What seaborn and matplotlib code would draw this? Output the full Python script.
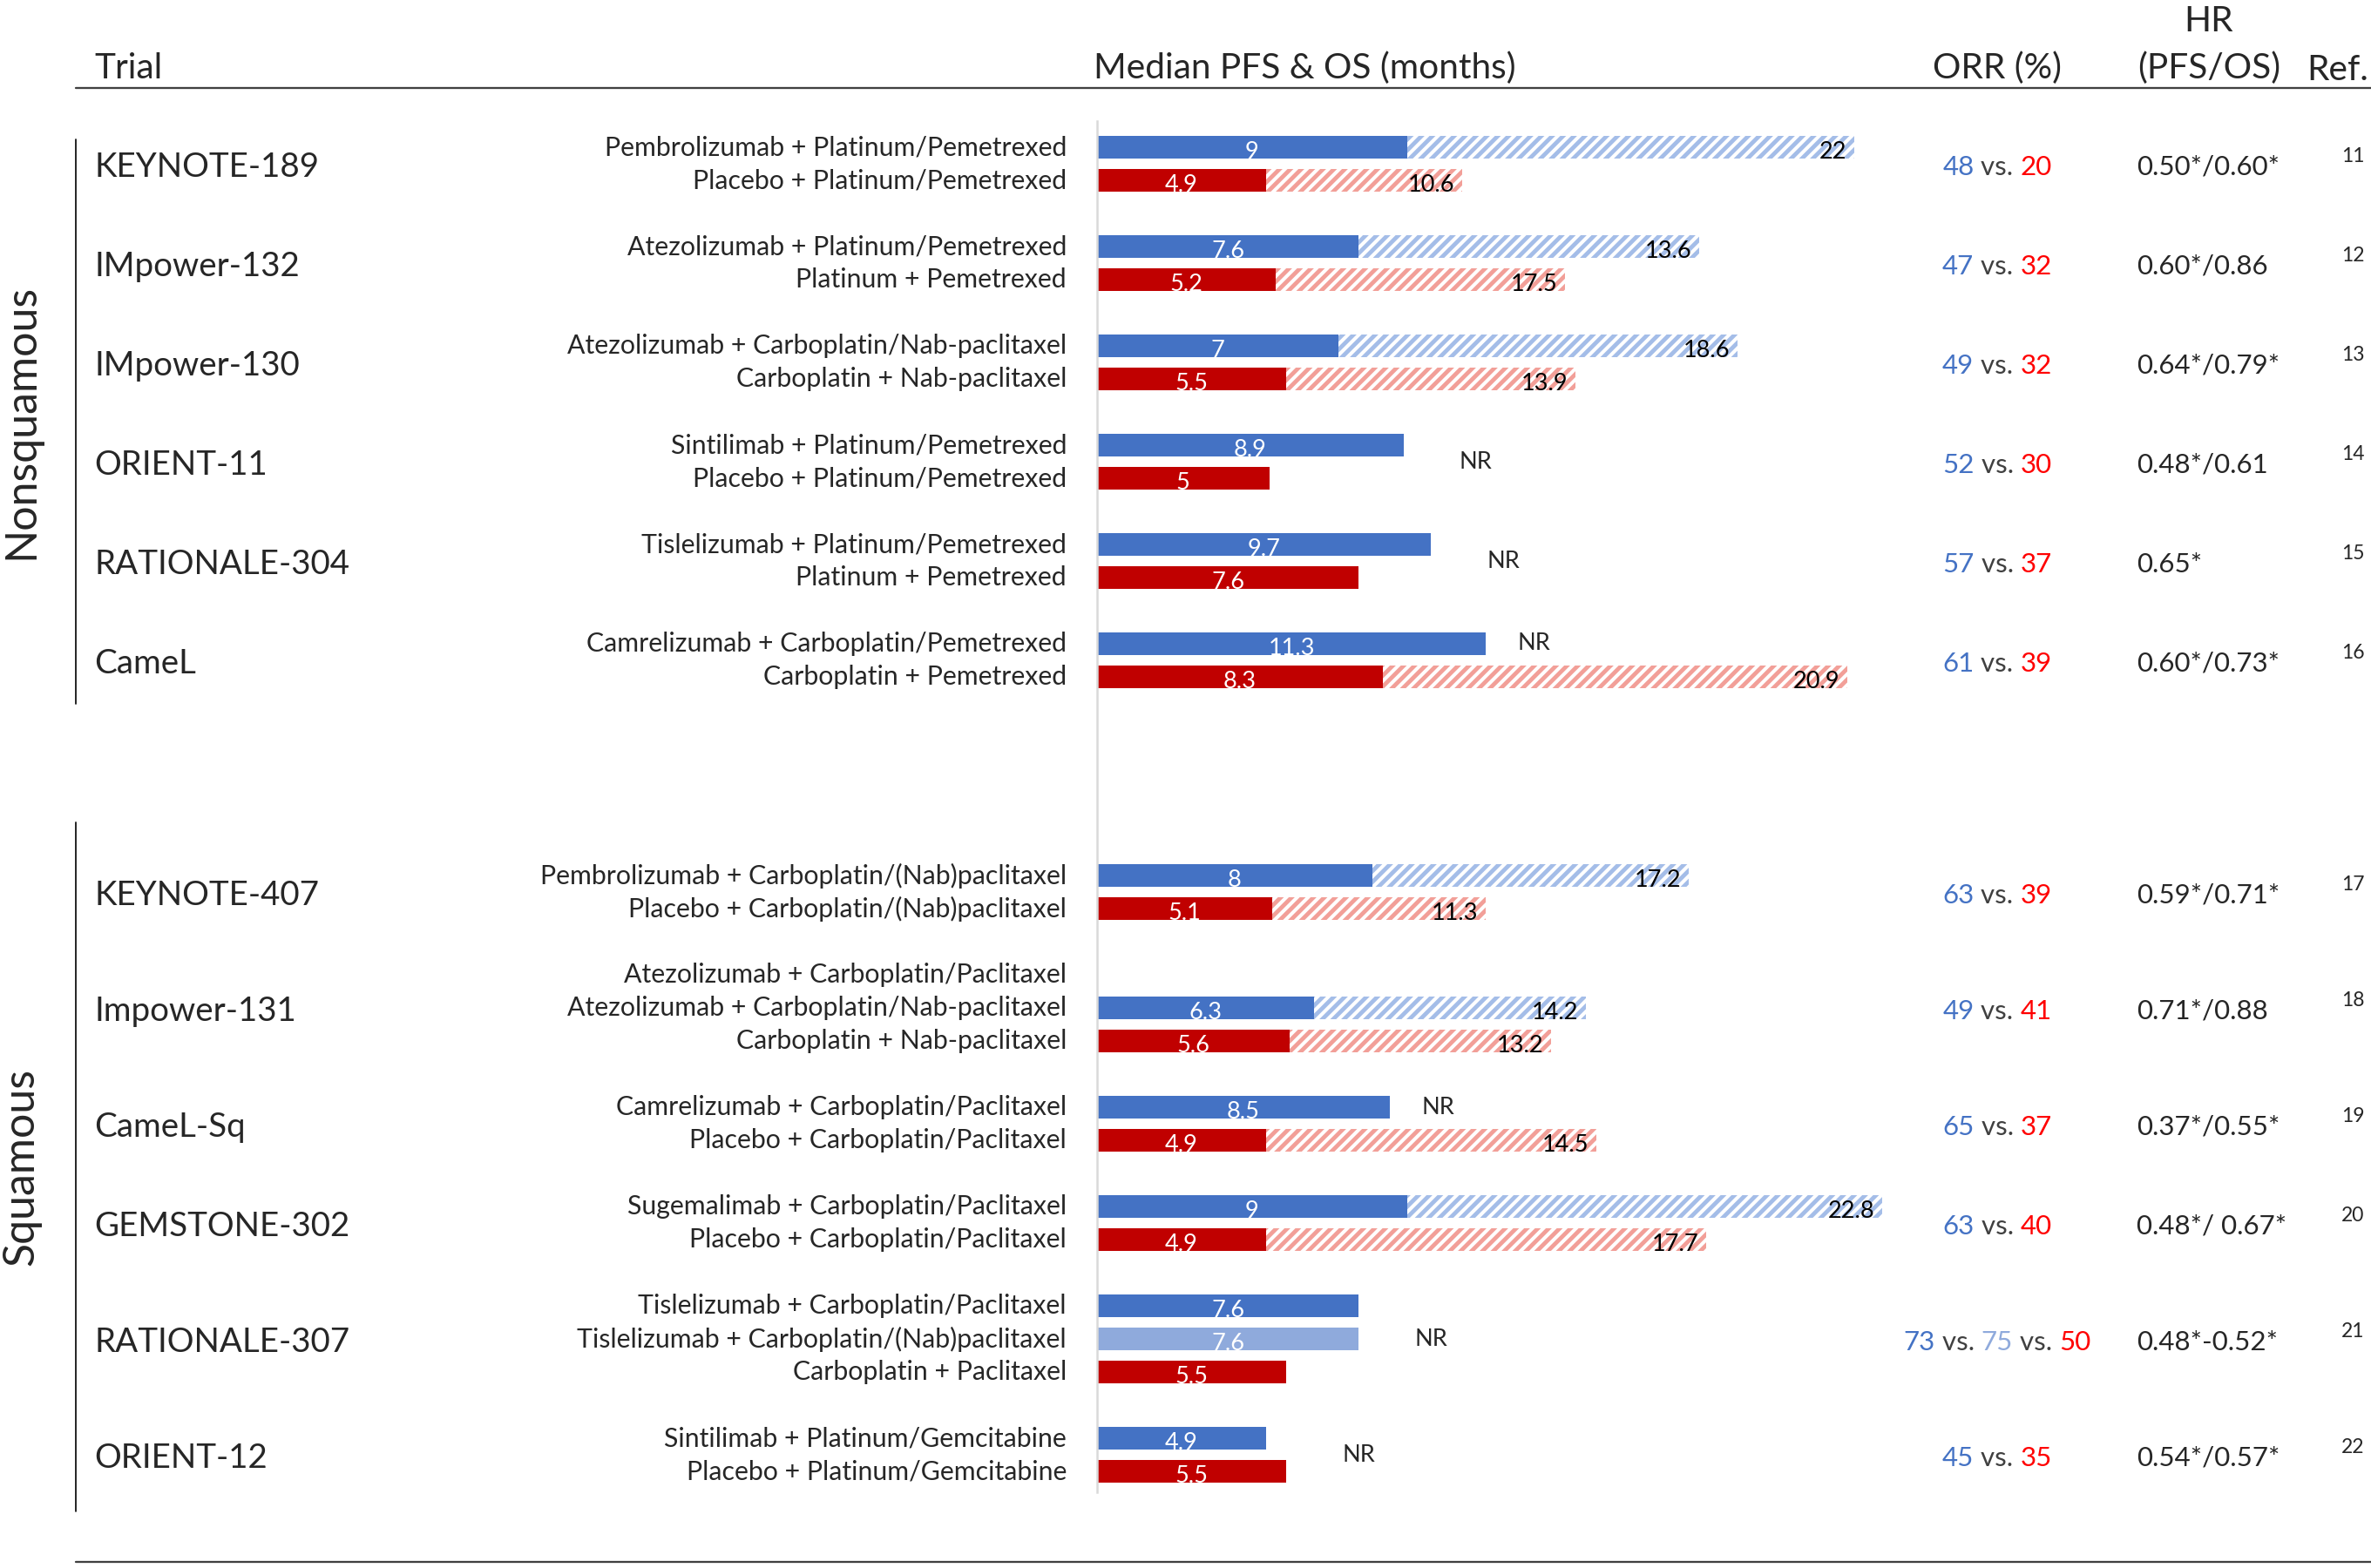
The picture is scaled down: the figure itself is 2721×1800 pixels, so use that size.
import numpy as np
import pandas as pd
import matplotlib.pyplot as plt
import seaborn as sns
from matplotlib.transforms import blended_transform_factory
from matplotlib.offsetbox import TextArea, HPacker, AnnotationBbox
from matplotlib.lines import Line2D

# ---- data -------------------------------------------------------------
trials = ["KEYNOTE-189", "IMpower-132", "IMpower-130", "ORIENT-11",
          "RATIONALE-304", "CameL", "KEYNOTE-407", "Impower-131",
          "CameL-Sq", "GEMSTONE-302", "RATIONALE-307", "ORIENT-12"]
histology = ["Nonsquamous"] * 6 + ["Squamous"] * 6
orr = [[48, 20], [47, 32], [49, 32], [52, 30], [57, 37], [61, 39],
       [63, 39], [49, 41], [65, 37], [63, 40], [73, 75, 50], [45, 35]]
hr = ["0.50*/0.60*", "0.60*/0.86", "0.64*/0.79*", "0.48*/0.61", "0.65*",
      "0.60*/0.73*", "0.59*/0.71*", "0.71*/0.88", "0.37*/0.55*",
      "0.48*/ 0.67*", "0.48*-0.52*", "0.54*/0.57*"]
refs = [11, 12, 13, 14, 15, 16, 17, 18, 19, 20, 21, 22]

arm_trial = [0, 0, 1, 1, 2, 2, 3, 3, 4, 4, 5, 5,
             6, 6, 7, 7, 7, 8, 8, 9, 9, 10, 10, 10, 11, 11]
arm_label = [
    "Pembrolizumab + Platinum/Pemetrexed", "Placebo + Platinum/Pemetrexed",
    "Atezolizumab + Platinum/Pemetrexed", "Platinum + Pemetrexed",
    "Atezolizumab + Carboplatin/Nab-paclitaxel", "Carboplatin + Nab-paclitaxel",
    "Sintilimab + Platinum/Pemetrexed", "Placebo + Platinum/Pemetrexed",
    "Tislelizumab + Platinum/Pemetrexed", "Platinum + Pemetrexed",
    "Camrelizumab + Carboplatin/Pemetrexed", "Carboplatin + Pemetrexed",
    "Pembrolizumab + Carboplatin/(Nab)paclitaxel", "Placebo + Carboplatin/(Nab)paclitaxel",
    "Atezolizumab + Carboplatin/Paclitaxel", "Atezolizumab + Carboplatin/Nab-paclitaxel",
    "Carboplatin + Nab-paclitaxel",
    "Camrelizumab + Carboplatin/Paclitaxel", "Placebo + Carboplatin/Paclitaxel",
    "Sugemalimab + Carboplatin/Paclitaxel", "Placebo + Carboplatin/Paclitaxel",
    "Tislelizumab + Carboplatin/Paclitaxel", "Tislelizumab + Carboplatin/(Nab)paclitaxel",
    "Carboplatin + Paclitaxel",
    "Sintilimab + Platinum/Gemcitabine", "Placebo + Platinum/Gemcitabine",
]
arm_kind = ["exp", "ctrl", "exp", "ctrl", "exp", "ctrl", "exp", "ctrl",
            "exp", "ctrl", "exp", "ctrl", "exp", "ctrl", "none", "exp", "ctrl",
            "exp", "ctrl", "exp", "ctrl", "exp", "exp2", "ctrl", "exp", "ctrl"]
arm_pfs = [9, 4.9, 7.6, 5.2, 7, 5.5, 8.9, 5, 9.7, 7.6, 11.3, 8.3,
           8, 5.1, np.nan, 6.3, 5.6, 8.5, 4.9, 9, 4.9, 7.6, 7.6, 5.5, 4.9, 5.5]
# OS bar lengths as drawn (nan = not reached / not shown)
arm_os = [22, 10.6, 17.5, 13.6, 18.6, 13.9, np.nan, np.nan, np.nan, np.nan,
          np.nan, 21.8, 17.2, 11.3, np.nan, 14.2, 13.2, np.nan, 14.5,
          22.8, 17.7, np.nan, np.nan, np.nan, np.nan, np.nan]
# OS labels as printed next to the bars
arm_os_text = ["22", "10.6", "13.6", "17.5", "18.6", "13.9", "", "", "", "",
               "", "20.9", "17.2", "11.3", "", "14.2", "13.2", "", "14.5",
               "22.8", "17.7", "", "", "", "", ""]

solid_pal = {"exp": "#4472C4", "exp2": "#8FAADC", "ctrl": "#C00000", "none": "#FFFFFF"}
hatch_pal = {"exp": "#A4BDE8", "exp2": "#A4BDE8", "ctrl": "#F29F98", "none": "#FFFFFF"}
orr_colors = {"exp": "#4472C4", "exp2": "#8FAADC", "ctrl": "#FF0000"}

# ---- layout ---------------------------------------------------------
W, H, DPI = 2721, 1800, 150
PX_MONTH = 39.5
ROW0, ROW_PX = 169, 38.0

rows = []
r = 0
prev = None
for t in arm_trial:
    if prev is not None and t != prev:
        r += 1
        if histology[t] != histology[prev]:
            r += 4
    rows.append(r)
    r += 1
    prev = t

arms = pd.DataFrame({"trial": arm_trial, "row": rows, "label": arm_label,
                     "kind": arm_kind, "pfs": arm_pfs, "os": arm_os,
                     "os_text": arm_os_text})
arms["pfs_bar"] = arms["pfs"].fillna(0)
arms["os_bar"] = arms["os"].fillna(0)
centers = arms.groupby("trial")["row"].mean()

sns.set_theme(style="white")
plt.rcParams["font.family"] = ["Lato", "DejaVu Sans"]
plt.rcParams["hatch.linewidth"] = 2.3

fig = plt.figure(figsize=(W / DPI, H / DPI), dpi=DPI)
ax_l, ax_r, ax_t, ax_b = 1259, 2300, 139, 1713
ax = fig.add_axes([ax_l / W, 1 - ax_b / H, (ax_r - ax_l) / W, (ax_b - ax_t) / H])

# OS (hatched) first, PFS (solid) on top
sns.barplot(data=arms, x="os_bar", y="row", hue="kind", palette=hatch_pal,
            orient="y", native_scale=True, dodge=False, width=0.69,
            errorbar=None, legend=False, saturation=1, ax=ax)
for p in ax.patches:
    fc = p.get_facecolor()
    p.set_facecolor("white")
    p.set_edgecolor(fc)
    p.set_hatch("////")
    p.set_linewidth(0)
n_os = len(ax.patches)
sns.barplot(data=arms, x="pfs_bar", y="row", hue="kind", palette=solid_pal,
            orient="y", native_scale=True, dodge=False, width=0.69,
            errorbar=None, legend=False, saturation=1, ax=ax)
for p in ax.patches[n_os:]:
    p.set_linewidth(0)

ax.set_xlim(0, (ax_r - ax_l) / PX_MONTH)
ax.set_ylim((ax_b - ROW0) / ROW_PX, (ax_t - ROW0) / ROW_PX)
ax.set_xlabel("")
ax.set_ylabel("")
ax.set_xticks([])
ax.set_yticks([])
for s in ["top", "right", "bottom"]:
    ax.spines[s].set_visible(False)
ax.spines["left"].set_color("#D9D9D9")
ax.spines["left"].set_linewidth(1.2)

# value labels
VAL_FS = 13
for _, a in arms.iterrows():
    if not np.isnan(a.pfs):
        ax.text(a.pfs / 2, a.row + 0.14, f"{a.pfs:g}", color="white",
                ha="center", va="center", fontsize=VAL_FS)
    if not np.isnan(a.os):
        ax.text(a.os - 0.22, a.row + 0.14, a.os_text, color="black",
                ha="right", va="center", fontsize=VAL_FS)

# NR labels
for t in range(len(trials)):
    sub = arms[(arms.trial == t) & (arms.kind != "none")]
    nr = sub[sub.os.isna()]
    if len(nr) == 0:
        continue
    if len(nr) == len(sub):
        ax.text(sub.pfs.max() + 2.1, centers[t], "NR", ha="center",
                va="center", fontsize=VAL_FS)
    else:
        for _, a in nr.iterrows():
            ax.text(a.pfs + 1.4, a.row, "NR", ha="center", va="center",
                    fontsize=VAL_FS)

# ---- text columns ---------------------------------------------------
tr = blended_transform_factory(fig.transFigure, ax.transData)

for t, name in enumerate(trials):
    yc = centers[t] + 0.1
    fig.text(108 / W, yc, name, transform=tr, ha="left", va="center",
             fontsize=18.5)
    fig.text(2452 / W, yc, hr[t], transform=tr, ha="left", va="center",
             fontsize=15)
    fig.text(2700 / W, centers[t] - 0.22, str(refs[t]), transform=tr,
             ha="center", va="center", fontsize=11)
    vals = orr[t]
    kinds = ["exp"] + ["exp2"] * (len(vals) - 2) + ["ctrl"]
    parts = []
    for i, (v, k) in enumerate(zip(vals, kinds)):
        if i > 0:
            parts.append(TextArea(" vs. ", textprops=dict(color="#404040", fontsize=15)))
        parts.append(TextArea(str(v), textprops=dict(color=orr_colors[k], fontsize=15)))
    box = HPacker(children=parts, align="baseline", pad=0, sep=0)
    fig.add_artist(AnnotationBbox(box, (2292 / W, yc), xycoords=tr,
                                  frameon=False, box_alignment=(0.5, 0.5),
                                  pad=0))

for _, a in arms.iterrows():
    fig.text(1224 / W, a.row, a.label, transform=tr, ha="right",
             va="center", fontsize=14.5)

# headers
def fy(px):
    return 1 - px / H

fig.text(108 / W, fy(78), "Trial", ha="left", va="center", fontsize=19.5)
fig.text(1255 / W, fy(78), "Median PFS & OS (months)", ha="left",
         va="center", fontsize=19.5)
fig.text(2292 / W, fy(78), "ORR (%)", ha="center", va="center", fontsize=19.5)
fig.text(2535 / W, fy(24), "HR", ha="center", va="center", fontsize=19.5)
fig.text(2535 / W, fy(78), "(PFS/OS)", ha="center", va="center", fontsize=19.5)
fig.text(2683 / W, fy(81), "Ref.", ha="center", va="center", fontsize=19.5)

fig.add_artist(Line2D([87 / W, 1], [fy(101), fy(101)], color="#404040", lw=1.1))
fig.add_artist(Line2D([87 / W, 1], [fy(1793), fy(1793)], color="#404040", lw=1.1))

# histology brackets
group_spans = {"Nonsquamous": (160, 808), "Squamous": (944, 1735)}
for g, (y0, y1) in group_spans.items():
    fig.add_artist(Line2D([87 / W, 87 / W], [fy(y0), fy(y1)], color="black", lw=0.8))
    fig.text(24 / W, fy((y0 + y1) / 2), g, rotation=90, ha="center",
             va="center", fontsize=24)

fig.savefig("out.png", dpi=DPI)
